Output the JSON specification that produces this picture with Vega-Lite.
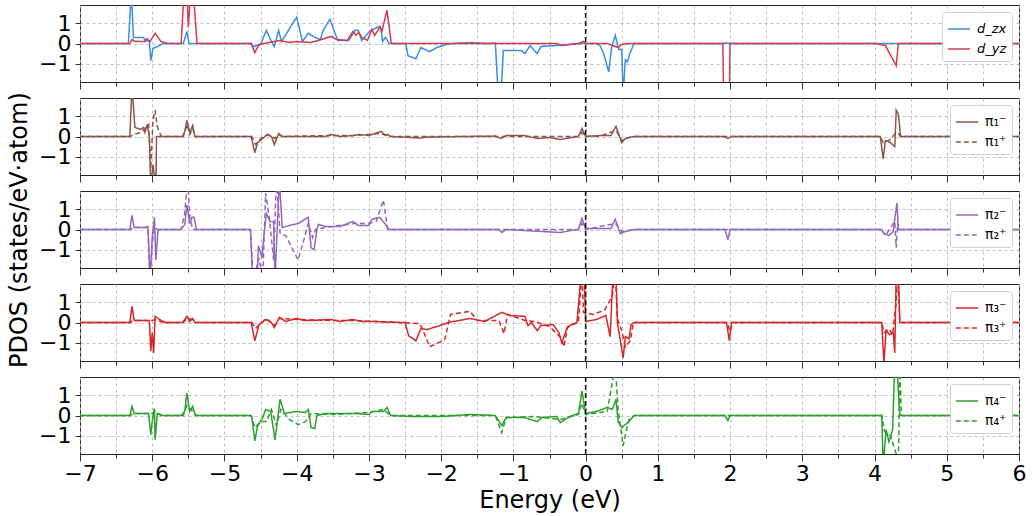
{
"$schema": "https://vega.github.io/schema/vega-lite/v6.json",
"padding": {"left": 8, "top": 3, "right": 6, "bottom": 2},
"background": "white",
"bounds": "flush",
"title": {"text": "PDOS (states/eV·atom)", "orient": "left", "anchor": "middle", "fontSize": 24, "fontWeight": "normal", "font": "DejaVu Sans", "offset": 6, "dx": 28, "color": "black"},
"config": {
 "font": "DejaVu Sans",
 "view": {"stroke": "#222222", "strokeWidth": 1},
 "axis": {"labelFont": "DejaVu Sans", "titleFont": "DejaVu Sans", "labelColor": "black", "titleColor": "black", "domain": false, "tickColor": "#333333", "gridColor": "#b0b0b0", "gridDash": [3, 3], "gridWidth": 0.8, "labelOverlap": false, "labelFlush": false, "labelBound": false},
 "legend": {"labelFont": "DejaVu Sans"},
 "concat": {"spacing": 16}
},
"resolve": {"scale": {"color": "independent", "strokeDash": "independent", "x": "independent", "y": "independent"}, "legend": {"color": "independent", "strokeDash": "independent"}},
"vconcat": [
 {
  "width": 939, "height": 77,
  "resolve": {"axis": {"x": "independent"}},
  "layer": [
   {"data": {"values": [
{"x":-7,"y":0,"s":"d_zx"},{"x":-6.33,"y":0,"s":"d_zx"},{"x":-6.29,"y":2.5,"s":"d_zx"},{"x":-6.26,"y":0.3,"s":"d_zx"},{"x":-6.12,"y":0.3,"s":"d_zx"},{"x":-6.1,"y":0.15,"s":"d_zx"},{"x":-6.04,"y":0.1,"s":"d_zx"},{"x":-6.02,"y":-0.85,"s":"d_zx"},{"x":-5.99,"y":-0.25,"s":"d_zx"},{"x":-5.93,"y":-0.15,"s":"d_zx"},{"x":-5.85,"y":0,"s":"d_zx"},{"x":-5.57,"y":0,"s":"d_zx"},{"x":-5.52,"y":0.6,"s":"d_zx"},{"x":-5.49,"y":0,"s":"d_zx"},{"x":-4.63,"y":0,"s":"d_zx"},{"x":-4.6,"y":-0.15,"s":"d_zx"},{"x":-4.5,"y":-0.05,"s":"d_zx"},{"x":-4.42,"y":0.65,"s":"d_zx"},{"x":-4.35,"y":0.1,"s":"d_zx"},{"x":-4.31,"y":-0.15,"s":"d_zx"},{"x":-4.25,"y":0.65,"s":"d_zx"},{"x":-4.21,"y":0.1,"s":"d_zx"},{"x":-4.0,"y":1.3,"s":"d_zx"},{"x":-3.92,"y":0.1,"s":"d_zx"},{"x":-3.84,"y":0.5,"s":"d_zx"},{"x":-3.75,"y":0.3,"s":"d_zx"},{"x":-3.67,"y":0.2,"s":"d_zx"},{"x":-3.64,"y":0.6,"s":"d_zx"},{"x":-3.54,"y":1.2,"s":"d_zx"},{"x":-3.49,"y":0.7,"s":"d_zx"},{"x":-3.43,"y":0.15,"s":"d_zx"},{"x":-3.28,"y":0.15,"s":"d_zx"},{"x":-3.19,"y":0.65,"s":"d_zx"},{"x":-3.15,"y":0.65,"s":"d_zx"},{"x":-3.1,"y":0.15,"s":"d_zx"},{"x":-2.99,"y":0.6,"s":"d_zx"},{"x":-2.88,"y":0.8,"s":"d_zx"},{"x":-2.84,"y":0.85,"s":"d_zx"},{"x":-2.81,"y":0.1,"s":"d_zx"},{"x":-2.77,"y":0.3,"s":"d_zx"},{"x":-2.72,"y":0,"s":"d_zx"},{"x":-2.49,"y":0,"s":"d_zx"},{"x":-2.46,"y":-0.6,"s":"d_zx"},{"x":-2.35,"y":-0.75,"s":"d_zx"},{"x":-2.28,"y":-0.2,"s":"d_zx"},{"x":-2.16,"y":-0.4,"s":"d_zx"},{"x":-2.06,"y":-0.2,"s":"d_zx"},{"x":-1.93,"y":-0.05,"s":"d_zx"},{"x":-1.85,"y":0,"s":"d_zx"},{"x":-1.6,"y":0.05,"s":"d_zx"},{"x":-1.38,"y":0,"s":"d_zx"},{"x":-1.25,"y":0.02,"s":"d_zx"},{"x":-1.21,"y":-2.5,"s":"d_zx"},{"x":-1.17,"y":-2.5,"s":"d_zx"},{"x":-1.14,"y":-0.35,"s":"d_zx"},{"x":-0.89,"y":-0.35,"s":"d_zx"},{"x":-0.84,"y":-0.5,"s":"d_zx"},{"x":-0.77,"y":-0.1,"s":"d_zx"},{"x":-0.67,"y":-0.5,"s":"d_zx"},{"x":-0.62,"y":-0.15,"s":"d_zx"},{"x":-0.4,"y":-0.1,"s":"d_zx"},{"x":-0.2,"y":-0.05,"s":"d_zx"},{"x":-0.05,"y":0,"s":"d_zx"},{"x":0.15,"y":0,"s":"d_zx"},{"x":0.2,"y":-0.1,"s":"d_zx"},{"x":0.25,"y":-0.5,"s":"d_zx"},{"x":0.32,"y":-1.4,"s":"d_zx"},{"x":0.36,"y":-0.2,"s":"d_zx"},{"x":0.41,"y":0.4,"s":"d_zx"},{"x":0.46,"y":-0.3,"s":"d_zx"},{"x":0.5,"y":-0.3,"s":"d_zx"},{"x":0.52,"y":-2.5,"s":"d_zx"},{"x":0.55,"y":-0.8,"s":"d_zx"},{"x":0.58,"y":-0.9,"s":"d_zx"},{"x":0.61,"y":-0.5,"s":"d_zx"},{"x":0.67,"y":0,"s":"d_zx"},{"x":1.9,"y":0,"s":"d_zx"},{"x":1.95,"y":0.03,"s":"d_zx"},{"x":2.0,"y":0,"s":"d_zx"},{"x":6,"y":0,"s":"d_zx"},
{"x":-7,"y":0,"s":"d_yz"},{"x":-6.31,"y":0,"s":"d_yz"},{"x":-6.28,"y":0.2,"s":"d_yz"},{"x":-6.24,"y":0.1,"s":"d_yz"},{"x":-6.1,"y":0.1,"s":"d_yz"},{"x":-6.08,"y":0.25,"s":"d_yz"},{"x":-6.03,"y":0.1,"s":"d_yz"},{"x":-5.96,"y":0.5,"s":"d_yz"},{"x":-5.88,"y":0.1,"s":"d_yz"},{"x":-5.79,"y":0,"s":"d_yz"},{"x":-5.6,"y":0,"s":"d_yz"},{"x":-5.56,"y":2.5,"s":"d_yz"},{"x":-5.52,"y":2.5,"s":"d_yz"},{"x":-5.5,"y":0.8,"s":"d_yz"},{"x":-5.47,"y":2.5,"s":"d_yz"},{"x":-5.43,"y":2.5,"s":"d_yz"},{"x":-5.38,"y":0,"s":"d_yz"},{"x":-4.63,"y":0,"s":"d_yz"},{"x":-4.58,"y":-0.45,"s":"d_yz"},{"x":-4.52,"y":-0.05,"s":"d_yz"},{"x":-4.24,"y":0.15,"s":"d_yz"},{"x":-4.1,"y":0.05,"s":"d_yz"},{"x":-4.0,"y":0.1,"s":"d_yz"},{"x":-3.8,"y":0.05,"s":"d_yz"},{"x":-3.66,"y":0.2,"s":"d_yz"},{"x":-3.52,"y":0.35,"s":"d_yz"},{"x":-3.45,"y":0.2,"s":"d_yz"},{"x":-3.3,"y":0.15,"s":"d_yz"},{"x":-3.22,"y":0.6,"s":"d_yz"},{"x":-3.18,"y":0.4,"s":"d_yz"},{"x":-3.14,"y":0.55,"s":"d_yz"},{"x":-3.1,"y":0.3,"s":"d_yz"},{"x":-3.02,"y":0.15,"s":"d_yz"},{"x":-2.96,"y":0.7,"s":"d_yz"},{"x":-2.92,"y":0.4,"s":"d_yz"},{"x":-2.85,"y":0.8,"s":"d_yz"},{"x":-2.82,"y":0.6,"s":"d_yz"},{"x":-2.75,"y":1.65,"s":"d_yz"},{"x":-2.69,"y":0,"s":"d_yz"},{"x":-0.4,"y":0,"s":"d_yz"},{"x":-0.33,"y":-0.1,"s":"d_yz"},{"x":-0.25,"y":-0.05,"s":"d_yz"},{"x":-0.1,"y":0,"s":"d_yz"},{"x":-0.03,"y":0.1,"s":"d_yz"},{"x":0.0,"y":0,"s":"d_yz"},{"x":0.3,"y":0,"s":"d_yz"},{"x":0.45,"y":-0.2,"s":"d_yz"},{"x":0.5,"y":-0.05,"s":"d_yz"},{"x":0.6,"y":0,"s":"d_yz"},{"x":1.9,"y":0,"s":"d_yz"},{"x":1.91,"y":-2.5,"s":"d_yz"},{"x":1.99,"y":-2.5,"s":"d_yz"},{"x":2.0,"y":0,"s":"d_yz"},{"x":4.0,"y":0,"s":"d_yz"},{"x":4.15,"y":-0.1,"s":"d_yz"},{"x":4.3,"y":-1.1,"s":"d_yz"},{"x":4.33,"y":0,"s":"d_yz"},{"x":6,"y":0,"s":"d_yz"}
   ]},
    "mark": {"type": "line", "clip": true, "strokeWidth": 1.5},
    "encoding": {
     "x": {"field": "x", "type": "quantitative", "scale": {"domain": [-7, 6], "nice": false, "zero": false}, "axis": {"orient": "bottom", "values": [-7,-6.5,-6,-5.5,-5,-4.5,-4,-3.5,-3,-2.5,-2,-1.5,-1,-0.5,0,0.5,1,1.5,2,2.5,3,3.5,4,4.5,5,5.5,6], "labels": false, "title": null, "tickSize": 4, "grid": true}},
     "y": {"field": "y", "type": "quantitative", "scale": {"domain": [-1.9, 1.9], "nice": false}, "axis": {"values": [-1, 0, 1], "title": null, "labelFontSize": 22, "tickSize": 5, "labelPadding": 4, "grid": true, "labelExpr": "replace(format(datum.value, 'd'), '-', '−')"}},
     "color": {"field": "s", "type": "nominal", "sort": ["d_zx", "d_yz"], "scale": {"domain": ["d_zx", "d_yz"], "range": ["#3a8ee6", "#d63a4e"]}, "legend": {"orient": "top-right", "offset": 7, "title": null, "fillColor": "white", "strokeColor": "#d0d0d0", "padding": 5, "cornerRadius": 3, "symbolType": "stroke", "symbolSize": 500, "symbolStrokeWidth": 1.5, "labelFontSize": 13, "labelFontStyle": "italic", "rowPadding": 1, "labelOffset": 6}}
    }
   },
   {"data": {"values": [{"x": 0}]}, "mark": {"type": "rule", "color": "#111111", "strokeDash": [5, 3], "strokeWidth": 1.5},
    "encoding": {"x": {"field": "x", "type": "quantitative", "axis": {"orient": "bottom", "values": [-7,-6,-5,-4,-3,-2,-1,0,1,2,3,4,5,6], "labels": false, "title": null, "tickSize": 7, "grid": false}}}}
  ]
 },
 {
  "width": 939, "height": 77,
  "resolve": {"axis": {"x": "independent"}},
  "layer": [
   {"data": {"values": [
{"x":-7,"y":0,"s":"π₁⁻"},{"x":-6.31,"y":0,"s":"π₁⁻"},{"x":-6.28,"y":2.5,"s":"π₁⁻"},{"x":-6.24,"y":0.45,"s":"π₁⁻"},{"x":-6.16,"y":0.35,"s":"π₁⁻"},{"x":-6.12,"y":0.45,"s":"π₁⁻"},{"x":-6.1,"y":0.2,"s":"π₁⁻"},{"x":-6.07,"y":0.6,"s":"π₁⁻"},{"x":-6.04,"y":0,"s":"π₁⁻"},{"x":-6.02,"y":-2.5,"s":"π₁⁻"},{"x":-5.99,"y":-1.4,"s":"π₁⁻"},{"x":-5.95,"y":-2.5,"s":"π₁⁻"},{"x":-5.94,"y":0,"s":"π₁⁻"},{"x":-5.58,"y":0,"s":"π₁⁻"},{"x":-5.55,"y":0.25,"s":"π₁⁻"},{"x":-5.52,"y":0.8,"s":"π₁⁻"},{"x":-5.48,"y":0.2,"s":"π₁⁻"},{"x":-5.44,"y":0.55,"s":"π₁⁻"},{"x":-5.41,"y":0,"s":"π₁⁻"},{"x":-4.63,"y":0,"s":"π₁⁻"},{"x":-4.58,"y":-0.8,"s":"π₁⁻"},{"x":-4.54,"y":-0.3,"s":"π₁⁻"},{"x":-4.47,"y":-0.1,"s":"π₁⁻"},{"x":-4.41,"y":0.1,"s":"π₁⁻"},{"x":-4.35,"y":0,"s":"π₁⁻"},{"x":-4.31,"y":-0.4,"s":"π₁⁻"},{"x":-4.25,"y":0.15,"s":"π₁⁻"},{"x":-4.2,"y":0,"s":"π₁⁻"},{"x":-3.6,"y":0,"s":"π₁⁻"},{"x":-3.52,"y":0.1,"s":"π₁⁻"},{"x":-3.4,"y":0,"s":"π₁⁻"},{"x":-3.2,"y":0.05,"s":"π₁⁻"},{"x":-3.15,"y":0.1,"s":"π₁⁻"},{"x":-3.0,"y":0.05,"s":"π₁⁻"},{"x":-2.83,"y":0.25,"s":"π₁⁻"},{"x":-2.77,"y":0.05,"s":"π₁⁻"},{"x":-2.74,"y":0.1,"s":"π₁⁻"},{"x":-2.7,"y":0,"s":"π₁⁻"},{"x":-2.4,"y":-0.05,"s":"π₁⁻"},{"x":-2.3,"y":-0.08,"s":"π₁⁻"},{"x":-2.2,"y":-0.03,"s":"π₁⁻"},{"x":-1.7,"y":0,"s":"π₁⁻"},{"x":-1.25,"y":0.02,"s":"π₁⁻"},{"x":-1.17,"y":-0.1,"s":"π₁⁻"},{"x":-1.1,"y":0.05,"s":"π₁⁻"},{"x":-0.85,"y":0.05,"s":"π₁⁻"},{"x":-0.67,"y":-0.1,"s":"π₁⁻"},{"x":-0.5,"y":-0.05,"s":"π₁⁻"},{"x":-0.35,"y":-0.15,"s":"π₁⁻"},{"x":-0.2,"y":-0.05,"s":"π₁⁻"},{"x":-0.1,"y":0,"s":"π₁⁻"},{"x":-0.05,"y":0.4,"s":"π₁⁻"},{"x":0.0,"y":0,"s":"π₁⁻"},{"x":0.2,"y":0.05,"s":"π₁⁻"},{"x":0.35,"y":0.05,"s":"π₁⁻"},{"x":0.42,"y":0.5,"s":"π₁⁻"},{"x":0.5,"y":-0.3,"s":"π₁⁻"},{"x":0.55,"y":-0.1,"s":"π₁⁻"},{"x":0.67,"y":0,"s":"π₁⁻"},{"x":1.92,"y":0,"s":"π₁⁻"},{"x":1.97,"y":-0.1,"s":"π₁⁻"},{"x":2.02,"y":0,"s":"π₁⁻"},{"x":4.08,"y":0,"s":"π₁⁻"},{"x":4.12,"y":-1.1,"s":"π₁⁻"},{"x":4.15,"y":-0.2,"s":"π₁⁻"},{"x":4.22,"y":-0.3,"s":"π₁⁻"},{"x":4.28,"y":-0.5,"s":"π₁⁻"},{"x":4.3,"y":1.3,"s":"π₁⁻"},{"x":4.33,"y":1.1,"s":"π₁⁻"},{"x":4.36,"y":0,"s":"π₁⁻"},{"x":6,"y":0,"s":"π₁⁻"},
{"x":-7,"y":0,"s":"π₁⁺"},{"x":-6.3,"y":0,"s":"π₁⁺"},{"x":-6.26,"y":0.1,"s":"π₁⁺"},{"x":-6.15,"y":0.2,"s":"π₁⁺"},{"x":-6.05,"y":0.6,"s":"π₁⁺"},{"x":-6.02,"y":-1.6,"s":"π₁⁺"},{"x":-5.99,"y":0.8,"s":"π₁⁺"},{"x":-5.96,"y":1.3,"s":"π₁⁺"},{"x":-5.93,"y":0.5,"s":"π₁⁺"},{"x":-5.9,"y":0.2,"s":"π₁⁺"},{"x":-5.87,"y":0,"s":"π₁⁺"},{"x":-5.57,"y":0,"s":"π₁⁺"},{"x":-5.52,"y":0.6,"s":"π₁⁺"},{"x":-5.48,"y":0.1,"s":"π₁⁺"},{"x":-5.44,"y":0.4,"s":"π₁⁺"},{"x":-5.41,"y":0,"s":"π₁⁺"},{"x":-4.62,"y":0,"s":"π₁⁺"},{"x":-4.57,"y":-0.4,"s":"π₁⁺"},{"x":-4.5,"y":-0.1,"s":"π₁⁺"},{"x":-4.4,"y":0.1,"s":"π₁⁺"},{"x":-4.3,"y":-0.1,"s":"π₁⁺"},{"x":-4.25,"y":0.1,"s":"π₁⁺"},{"x":-4.2,"y":0,"s":"π₁⁺"},{"x":-3.5,"y":0.05,"s":"π₁⁺"},{"x":-3.2,"y":0.05,"s":"π₁⁺"},{"x":-2.85,"y":0.15,"s":"π₁⁺"},{"x":-2.75,"y":0.05,"s":"π₁⁺"},{"x":-2.7,"y":0,"s":"π₁⁺"},{"x":-0.1,"y":0,"s":"π₁⁺"},{"x":-0.05,"y":0.2,"s":"π₁⁺"},{"x":0.0,"y":0,"s":"π₁⁺"},{"x":0.2,"y":0.02,"s":"π₁⁺"},{"x":0.42,"y":0.3,"s":"π₁⁺"},{"x":0.5,"y":-0.2,"s":"π₁⁺"},{"x":0.6,"y":-0.05,"s":"π₁⁺"},{"x":0.67,"y":0,"s":"π₁⁺"},{"x":4.08,"y":0,"s":"π₁⁺"},{"x":4.12,"y":-0.3,"s":"π₁⁺"},{"x":4.2,"y":-0.2,"s":"π₁⁺"},{"x":4.3,"y":0.2,"s":"π₁⁺"},{"x":4.33,"y":0.15,"s":"π₁⁺"},{"x":4.36,"y":0,"s":"π₁⁺"},{"x":6,"y":0,"s":"π₁⁺"}
   ]},
    "mark": {"type": "line", "clip": true, "strokeWidth": 1.5, "color": "#8c564b"},
    "encoding": {
     "x": {"field": "x", "type": "quantitative", "scale": {"domain": [-7, 6], "nice": false, "zero": false}, "axis": {"orient": "bottom", "values": [-7,-6.5,-6,-5.5,-5,-4.5,-4,-3.5,-3,-2.5,-2,-1.5,-1,-0.5,0,0.5,1,1.5,2,2.5,3,3.5,4,4.5,5,5.5,6], "labels": false, "title": null, "tickSize": 4, "grid": true}},
     "y": {"field": "y", "type": "quantitative", "scale": {"domain": [-1.9, 1.9], "nice": false}, "axis": {"values": [-1, 0, 1], "title": null, "labelFontSize": 22, "tickSize": 5, "labelPadding": 4, "grid": true, "labelExpr": "replace(format(datum.value, 'd'), '-', '−')"}},
     "strokeDash": {"field": "s", "type": "nominal", "scale": {"domain": ["π₁⁻", "π₁⁺"], "range": [[1, 0], [5, 3]]}, "legend": {"orient": "top-right", "offset": 7, "title": null, "fillColor": "white", "strokeColor": "#d0d0d0", "padding": 5, "cornerRadius": 3, "symbolType": "stroke", "symbolSize": 500, "symbolStrokeWidth": 1.5, "symbolStrokeColor": "#8c564b", "labelFontSize": 14, "rowPadding": 1, "labelOffset": 6}}
    }
   },
   {"data": {"values": [{"x": 0}]}, "mark": {"type": "rule", "color": "#111111", "strokeDash": [5, 3], "strokeWidth": 1.5},
    "encoding": {"x": {"field": "x", "type": "quantitative", "axis": {"orient": "bottom", "values": [-7,-6,-5,-4,-3,-2,-1,0,1,2,3,4,5,6], "labels": false, "title": null, "tickSize": 7, "grid": false}}}}
  ]
 },
 {
  "width": 939, "height": 77,
  "resolve": {"axis": {"x": "independent"}},
  "layer": [
   {"data": {"values": [
{"x":-7,"y":0,"s":"π₂⁻"},{"x":-6.31,"y":0,"s":"π₂⁻"},{"x":-6.28,"y":0.7,"s":"π₂⁻"},{"x":-6.25,"y":0.1,"s":"π₂⁻"},{"x":-6.1,"y":0.1,"s":"π₂⁻"},{"x":-6.06,"y":0.15,"s":"π₂⁻"},{"x":-6.03,"y":-2.5,"s":"π₂⁻"},{"x":-6.0,"y":-0.4,"s":"π₂⁻"},{"x":-5.97,"y":0.6,"s":"π₂⁻"},{"x":-5.95,"y":-1.5,"s":"π₂⁻"},{"x":-5.92,"y":0,"s":"π₂⁻"},{"x":-5.6,"y":0,"s":"π₂⁻"},{"x":-5.55,"y":0.25,"s":"π₂⁻"},{"x":-5.52,"y":1.2,"s":"π₂⁻"},{"x":-5.48,"y":0.3,"s":"π₂⁻"},{"x":-5.45,"y":0.6,"s":"π₂⁻"},{"x":-5.42,"y":0.6,"s":"π₂⁻"},{"x":-5.39,"y":0,"s":"π₂⁻"},{"x":-4.64,"y":0,"s":"π₂⁻"},{"x":-4.61,"y":-2.5,"s":"π₂⁻"},{"x":-4.55,"y":-2.5,"s":"π₂⁻"},{"x":-4.53,"y":-0.8,"s":"π₂⁻"},{"x":-4.48,"y":-1.4,"s":"π₂⁻"},{"x":-4.46,"y":-0.5,"s":"π₂⁻"},{"x":-4.42,"y":0.8,"s":"π₂⁻"},{"x":-4.37,"y":0.4,"s":"π₂⁻"},{"x":-4.32,"y":0.4,"s":"π₂⁻"},{"x":-4.3,"y":-2.5,"s":"π₂⁻"},{"x":-4.24,"y":2.5,"s":"π₂⁻"},{"x":-4.2,"y":0.1,"s":"π₂⁻"},{"x":-4.1,"y":0.2,"s":"π₂⁻"},{"x":-3.98,"y":0.3,"s":"π₂⁻"},{"x":-3.84,"y":0.6,"s":"π₂⁻"},{"x":-3.8,"y":-0.9,"s":"π₂⁻"},{"x":-3.76,"y":-1.0,"s":"π₂⁻"},{"x":-3.72,"y":0,"s":"π₂⁻"},{"x":-3.7,"y":0.25,"s":"π₂⁻"},{"x":-3.6,"y":0.15,"s":"π₂⁻"},{"x":-3.4,"y":0.15,"s":"π₂⁻"},{"x":-3.22,"y":0.4,"s":"π₂⁻"},{"x":-3.15,"y":0.2,"s":"π₂⁻"},{"x":-3.0,"y":0.2,"s":"π₂⁻"},{"x":-2.96,"y":0.5,"s":"π₂⁻"},{"x":-2.85,"y":0.6,"s":"π₂⁻"},{"x":-2.78,"y":0.3,"s":"π₂⁻"},{"x":-2.72,"y":0,"s":"π₂⁻"},{"x":-1.2,"y":0,"s":"π₂⁻"},{"x":-1.16,"y":-0.15,"s":"π₂⁻"},{"x":-1.1,"y":0,"s":"π₂⁻"},{"x":-0.35,"y":-0.15,"s":"π₂⁻"},{"x":-0.2,"y":-0.05,"s":"π₂⁻"},{"x":-0.1,"y":0,"s":"π₂⁻"},{"x":-0.05,"y":0.55,"s":"π₂⁻"},{"x":0.0,"y":0.05,"s":"π₂⁻"},{"x":0.35,"y":0.05,"s":"π₂⁻"},{"x":0.41,"y":0.5,"s":"π₂⁻"},{"x":0.48,"y":-0.2,"s":"π₂⁻"},{"x":0.55,"y":-0.1,"s":"π₂⁻"},{"x":0.67,"y":0,"s":"π₂⁻"},{"x":1.93,"y":0,"s":"π₂⁻"},{"x":1.97,"y":-0.5,"s":"π₂⁻"},{"x":2.0,"y":0,"s":"π₂⁻"},{"x":4.1,"y":0,"s":"π₂⁻"},{"x":4.13,"y":-0.2,"s":"π₂⁻"},{"x":4.2,"y":-0.3,"s":"π₂⁻"},{"x":4.26,"y":-0.1,"s":"π₂⁻"},{"x":4.29,"y":0.8,"s":"π₂⁻"},{"x":4.31,"y":1.3,"s":"π₂⁻"},{"x":4.33,"y":0,"s":"π₂⁻"},{"x":6,"y":0,"s":"π₂⁻"},
{"x":-7,"y":0,"s":"π₂⁺"},{"x":-6.3,"y":0,"s":"π₂⁺"},{"x":-6.27,"y":0.1,"s":"π₂⁺"},{"x":-6.06,"y":0.1,"s":"π₂⁺"},{"x":-6.03,"y":-2.5,"s":"π₂⁺"},{"x":-6.0,"y":-0.7,"s":"π₂⁺"},{"x":-5.97,"y":0.1,"s":"π₂⁺"},{"x":-5.93,"y":0,"s":"π₂⁺"},{"x":-5.6,"y":0,"s":"π₂⁺"},{"x":-5.55,"y":0.8,"s":"π₂⁺"},{"x":-5.51,"y":2.5,"s":"π₂⁺"},{"x":-5.48,"y":0.6,"s":"π₂⁺"},{"x":-5.44,"y":0,"s":"π₂⁺"},{"x":-4.64,"y":0,"s":"π₂⁺"},{"x":-4.6,"y":-2.5,"s":"π₂⁺"},{"x":-4.52,"y":-1.4,"s":"π₂⁺"},{"x":-4.47,"y":-2.5,"s":"π₂⁺"},{"x":-4.43,"y":1.8,"s":"π₂⁺"},{"x":-4.38,"y":0.6,"s":"π₂⁺"},{"x":-4.32,"y":-1.5,"s":"π₂⁺"},{"x":-4.28,"y":2.5,"s":"π₂⁺"},{"x":-4.23,"y":-0.2,"s":"π₂⁺"},{"x":-4.15,"y":-0.3,"s":"π₂⁺"},{"x":-3.98,"y":-1.5,"s":"π₂⁺"},{"x":-3.9,"y":-0.5,"s":"π₂⁺"},{"x":-3.84,"y":0.3,"s":"π₂⁺"},{"x":-3.78,"y":-0.4,"s":"π₂⁺"},{"x":-3.74,"y":0,"s":"π₂⁺"},{"x":-3.6,"y":0.1,"s":"π₂⁺"},{"x":-3.2,"y":0.3,"s":"π₂⁺"},{"x":-3.0,"y":0.3,"s":"π₂⁺"},{"x":-2.9,"y":0.4,"s":"π₂⁺"},{"x":-2.8,"y":1.45,"s":"π₂⁺"},{"x":-2.74,"y":0,"s":"π₂⁺"},{"x":-0.1,"y":0,"s":"π₂⁺"},{"x":-0.05,"y":0.3,"s":"π₂⁺"},{"x":0.0,"y":0,"s":"π₂⁺"},{"x":0.41,"y":0.3,"s":"π₂⁺"},{"x":0.5,"y":-0.1,"s":"π₂⁺"},{"x":0.67,"y":0,"s":"π₂⁺"},{"x":4.1,"y":0,"s":"π₂⁺"},{"x":4.15,"y":-0.3,"s":"π₂⁺"},{"x":4.28,"y":0.4,"s":"π₂⁺"},{"x":4.3,"y":-0.9,"s":"π₂⁺"},{"x":4.32,"y":0.3,"s":"π₂⁺"},{"x":4.34,"y":0,"s":"π₂⁺"},{"x":6,"y":0,"s":"π₂⁺"}
   ]},
    "mark": {"type": "line", "clip": true, "strokeWidth": 1.5, "color": "#9467bd"},
    "encoding": {
     "x": {"field": "x", "type": "quantitative", "scale": {"domain": [-7, 6], "nice": false, "zero": false}, "axis": {"orient": "bottom", "values": [-7,-6.5,-6,-5.5,-5,-4.5,-4,-3.5,-3,-2.5,-2,-1.5,-1,-0.5,0,0.5,1,1.5,2,2.5,3,3.5,4,4.5,5,5.5,6], "labels": false, "title": null, "tickSize": 4, "grid": true}},
     "y": {"field": "y", "type": "quantitative", "scale": {"domain": [-1.9, 1.9], "nice": false}, "axis": {"values": [-1, 0, 1], "title": null, "labelFontSize": 22, "tickSize": 5, "labelPadding": 4, "grid": true, "labelExpr": "replace(format(datum.value, 'd'), '-', '−')"}},
     "strokeDash": {"field": "s", "type": "nominal", "scale": {"domain": ["π₂⁻", "π₂⁺"], "range": [[1, 0], [5, 3]]}, "legend": {"orient": "top-right", "offset": 7, "title": null, "fillColor": "white", "strokeColor": "#d0d0d0", "padding": 5, "cornerRadius": 3, "symbolType": "stroke", "symbolSize": 500, "symbolStrokeWidth": 1.5, "symbolStrokeColor": "#9467bd", "labelFontSize": 14, "rowPadding": 1, "labelOffset": 6}}
    }
   },
   {"data": {"values": [{"x": 0}]}, "mark": {"type": "rule", "color": "#111111", "strokeDash": [5, 3], "strokeWidth": 1.5},
    "encoding": {"x": {"field": "x", "type": "quantitative", "axis": {"orient": "bottom", "values": [-7,-6,-5,-4,-3,-2,-1,0,1,2,3,4,5,6], "labels": false, "title": null, "tickSize": 7, "grid": false}}}}
  ]
 },
 {
  "width": 939, "height": 77,
  "resolve": {"axis": {"x": "independent"}},
  "layer": [
   {"data": {"values": [
{"x":-7,"y":0,"s":"π₃⁻"},{"x":-6.31,"y":0,"s":"π₃⁻"},{"x":-6.28,"y":0.8,"s":"π₃⁻"},{"x":-6.25,"y":0.1,"s":"π₃⁻"},{"x":-6.1,"y":0.1,"s":"π₃⁻"},{"x":-6.04,"y":0.1,"s":"π₃⁻"},{"x":-6.02,"y":-1.4,"s":"π₃⁻"},{"x":-6.0,"y":-0.5,"s":"π₃⁻"},{"x":-5.98,"y":-1.5,"s":"π₃⁻"},{"x":-5.96,"y":0.3,"s":"π₃⁻"},{"x":-5.9,"y":0.15,"s":"π₃⁻"},{"x":-5.82,"y":0,"s":"π₃⁻"},{"x":-5.58,"y":0,"s":"π₃⁻"},{"x":-5.52,"y":0.3,"s":"π₃⁻"},{"x":-5.48,"y":0.05,"s":"π₃⁻"},{"x":-5.44,"y":0.2,"s":"π₃⁻"},{"x":-5.41,"y":0,"s":"π₃⁻"},{"x":-4.63,"y":0,"s":"π₃⁻"},{"x":-4.58,"y":-0.9,"s":"π₃⁻"},{"x":-4.52,"y":-0.1,"s":"π₃⁻"},{"x":-4.43,"y":0.15,"s":"π₃⁻"},{"x":-4.35,"y":0,"s":"π₃⁻"},{"x":-4.31,"y":-0.25,"s":"π₃⁻"},{"x":-4.24,"y":0.25,"s":"π₃⁻"},{"x":-4.15,"y":0.05,"s":"π₃⁻"},{"x":-4.0,"y":0.2,"s":"π₃⁻"},{"x":-3.9,"y":0.1,"s":"π₃⁻"},{"x":-3.8,"y":0.1,"s":"π₃⁻"},{"x":-3.52,"y":0.15,"s":"π₃⁻"},{"x":-3.4,"y":0.05,"s":"π₃⁻"},{"x":-3.22,"y":0.15,"s":"π₃⁻"},{"x":-3.1,"y":0.05,"s":"π₃⁻"},{"x":-2.9,"y":0.05,"s":"π₃⁻"},{"x":-2.75,"y":0.02,"s":"π₃⁻"},{"x":-2.5,"y":0,"s":"π₃⁻"},{"x":-2.45,"y":-0.65,"s":"π₃⁻"},{"x":-2.35,"y":-0.9,"s":"π₃⁻"},{"x":-2.28,"y":-0.3,"s":"π₃⁻"},{"x":-2.2,"y":-0.35,"s":"π₃⁻"},{"x":-2.06,"y":-0.2,"s":"π₃⁻"},{"x":-1.9,"y":0,"s":"π₃⁻"},{"x":-1.75,"y":0.1,"s":"π₃⁻"},{"x":-1.6,"y":0.2,"s":"π₃⁻"},{"x":-1.4,"y":0.05,"s":"π₃⁻"},{"x":-1.16,"y":0.5,"s":"π₃⁻"},{"x":-1.05,"y":0.35,"s":"π₃⁻"},{"x":-0.84,"y":0.3,"s":"π₃⁻"},{"x":-0.8,"y":-0.15,"s":"π₃⁻"},{"x":-0.75,"y":0,"s":"π₃⁻"},{"x":-0.67,"y":-0.4,"s":"π₃⁻"},{"x":-0.62,"y":-0.15,"s":"π₃⁻"},{"x":-0.45,"y":-0.1,"s":"π₃⁻"},{"x":-0.37,"y":-0.5,"s":"π₃⁻"},{"x":-0.33,"y":-1.0,"s":"π₃⁻"},{"x":-0.26,"y":-0.3,"s":"π₃⁻"},{"x":-0.2,"y":-0.1,"s":"π₃⁻"},{"x":-0.12,"y":0,"s":"π₃⁻"},{"x":-0.06,"y":2.5,"s":"π₃⁻"},{"x":-0.02,"y":2.5,"s":"π₃⁻"},{"x":0.0,"y":0.05,"s":"π₃⁻"},{"x":0.15,"y":0.15,"s":"π₃⁻"},{"x":0.28,"y":0.35,"s":"π₃⁻"},{"x":0.34,"y":-0.7,"s":"π₃⁻"},{"x":0.38,"y":2.5,"s":"π₃⁻"},{"x":0.42,"y":2.5,"s":"π₃⁻"},{"x":0.44,"y":0,"s":"π₃⁻"},{"x":0.52,"y":-1.75,"s":"π₃⁻"},{"x":0.55,"y":-0.7,"s":"π₃⁻"},{"x":0.6,"y":-0.8,"s":"π₃⁻"},{"x":0.63,"y":-0.1,"s":"π₃⁻"},{"x":0.67,"y":0,"s":"π₃⁻"},{"x":1.95,"y":0,"s":"π₃⁻"},{"x":1.99,"y":-0.9,"s":"π₃⁻"},{"x":2.02,"y":0,"s":"π₃⁻"},{"x":4.1,"y":0,"s":"π₃⁻"},{"x":4.13,"y":-2.0,"s":"π₃⁻"},{"x":4.16,"y":-0.4,"s":"π₃⁻"},{"x":4.21,"y":-0.6,"s":"π₃⁻"},{"x":4.26,"y":-0.5,"s":"π₃⁻"},{"x":4.28,"y":-1.5,"s":"π₃⁻"},{"x":4.3,"y":2.5,"s":"π₃⁻"},{"x":4.33,"y":2.5,"s":"π₃⁻"},{"x":4.35,"y":0,"s":"π₃⁻"},{"x":6,"y":0,"s":"π₃⁻"},
{"x":-7,"y":0,"s":"π₃⁺"},{"x":-6.3,"y":0,"s":"π₃⁺"},{"x":-6.27,"y":0.1,"s":"π₃⁺"},{"x":-6.0,"y":0.1,"s":"π₃⁺"},{"x":-5.96,"y":0.15,"s":"π₃⁺"},{"x":-5.85,"y":0,"s":"π₃⁺"},{"x":-5.57,"y":0,"s":"π₃⁺"},{"x":-5.52,"y":0.2,"s":"π₃⁺"},{"x":-5.44,"y":0.15,"s":"π₃⁺"},{"x":-5.4,"y":0,"s":"π₃⁺"},{"x":-4.62,"y":0,"s":"π₃⁺"},{"x":-4.57,"y":-0.3,"s":"π₃⁺"},{"x":-4.5,"y":-0.05,"s":"π₃⁺"},{"x":-4.42,"y":0.2,"s":"π₃⁺"},{"x":-4.3,"y":-0.15,"s":"π₃⁺"},{"x":-4.24,"y":0.2,"s":"π₃⁺"},{"x":-4.0,"y":0.15,"s":"π₃⁺"},{"x":-3.52,"y":0.1,"s":"π₃⁺"},{"x":-3.22,"y":0.1,"s":"π₃⁺"},{"x":-2.9,"y":0.05,"s":"π₃⁺"},{"x":-2.3,"y":-0.05,"s":"π₃⁺"},{"x":-2.26,"y":-0.3,"s":"π₃⁺"},{"x":-2.16,"y":-1.2,"s":"π₃⁺"},{"x":-1.95,"y":-0.85,"s":"π₃⁺"},{"x":-1.87,"y":0.4,"s":"π₃⁺"},{"x":-1.6,"y":0.55,"s":"π₃⁺"},{"x":-1.5,"y":0.1,"s":"π₃⁺"},{"x":-1.2,"y":0.1,"s":"π₃⁺"},{"x":-1.13,"y":-0.55,"s":"π₃⁺"},{"x":-1.08,"y":0.4,"s":"π₃⁺"},{"x":-0.84,"y":0.1,"s":"π₃⁺"},{"x":-0.7,"y":0.05,"s":"π₃⁺"},{"x":-0.5,"y":-0.2,"s":"π₃⁺"},{"x":-0.33,"y":-0.8,"s":"π₃⁺"},{"x":-0.3,"y":-1.2,"s":"π₃⁺"},{"x":-0.25,"y":-0.2,"s":"π₃⁺"},{"x":-0.1,"y":0,"s":"π₃⁺"},{"x":-0.05,"y":2.5,"s":"π₃⁺"},{"x":-0.03,"y":0.5,"s":"π₃⁺"},{"x":0.1,"y":0.4,"s":"π₃⁺"},{"x":0.26,"y":0.6,"s":"π₃⁺"},{"x":0.37,"y":1.3,"s":"π₃⁺"},{"x":0.41,"y":2.5,"s":"π₃⁺"},{"x":0.44,"y":0.2,"s":"π₃⁺"},{"x":0.5,"y":-0.4,"s":"π₃⁺"},{"x":0.55,"y":-1.2,"s":"π₃⁺"},{"x":0.62,"y":-0.9,"s":"π₃⁺"},{"x":0.66,"y":0,"s":"π₃⁺"},{"x":1.96,"y":0,"s":"π₃⁺"},{"x":2.0,"y":-0.45,"s":"π₃⁺"},{"x":2.03,"y":0,"s":"π₃⁺"},{"x":4.1,"y":0,"s":"π₃⁺"},{"x":4.13,"y":-0.5,"s":"π₃⁺"},{"x":4.2,"y":-0.3,"s":"π₃⁺"},{"x":4.25,"y":-0.6,"s":"π₃⁺"},{"x":4.3,"y":1.0,"s":"π₃⁺"},{"x":4.32,"y":2.5,"s":"π₃⁺"},{"x":4.35,"y":0,"s":"π₃⁺"},{"x":6,"y":0,"s":"π₃⁺"}
   ]},
    "mark": {"type": "line", "clip": true, "strokeWidth": 1.5, "color": "#d62728"},
    "encoding": {
     "x": {"field": "x", "type": "quantitative", "scale": {"domain": [-7, 6], "nice": false, "zero": false}, "axis": {"orient": "bottom", "values": [-7,-6.5,-6,-5.5,-5,-4.5,-4,-3.5,-3,-2.5,-2,-1.5,-1,-0.5,0,0.5,1,1.5,2,2.5,3,3.5,4,4.5,5,5.5,6], "labels": false, "title": null, "tickSize": 4, "grid": true}},
     "y": {"field": "y", "type": "quantitative", "scale": {"domain": [-1.9, 1.9], "nice": false}, "axis": {"values": [-1, 0, 1], "title": null, "labelFontSize": 22, "tickSize": 5, "labelPadding": 4, "grid": true, "labelExpr": "replace(format(datum.value, 'd'), '-', '−')"}},
     "strokeDash": {"field": "s", "type": "nominal", "scale": {"domain": ["π₃⁻", "π₃⁺"], "range": [[1, 0], [5, 3]]}, "legend": {"orient": "top-right", "offset": 7, "title": null, "fillColor": "white", "strokeColor": "#d0d0d0", "padding": 5, "cornerRadius": 3, "symbolType": "stroke", "symbolSize": 500, "symbolStrokeWidth": 1.5, "symbolStrokeColor": "#d62728", "labelFontSize": 14, "rowPadding": 1, "labelOffset": 6}}
    }
   },
   {"data": {"values": [{"x": 0}]}, "mark": {"type": "rule", "color": "#111111", "strokeDash": [5, 3], "strokeWidth": 1.5},
    "encoding": {"x": {"field": "x", "type": "quantitative", "axis": {"orient": "bottom", "values": [-7,-6,-5,-4,-3,-2,-1,0,1,2,3,4,5,6], "labels": false, "title": null, "tickSize": 7, "grid": false}}}}
  ]
 },
 {
  "width": 939, "height": 77,
  "resolve": {"axis": {"x": "independent"}},
  "layer": [
   {"data": {"values": [
{"x":-7,"y":0,"s":"π₄⁻"},{"x":-6.31,"y":0,"s":"π₄⁻"},{"x":-6.28,"y":0.45,"s":"π₄⁻"},{"x":-6.25,"y":0.1,"s":"π₄⁻"},{"x":-6.05,"y":0.1,"s":"π₄⁻"},{"x":-6.02,"y":-0.95,"s":"π₄⁻"},{"x":-6.0,"y":-0.3,"s":"π₄⁻"},{"x":-5.97,"y":0.35,"s":"π₄⁻"},{"x":-5.96,"y":-1.2,"s":"π₄⁻"},{"x":-5.93,"y":0.1,"s":"π₄⁻"},{"x":-5.85,"y":0,"s":"π₄⁻"},{"x":-5.6,"y":0,"s":"π₄⁻"},{"x":-5.55,"y":0.2,"s":"π₄⁻"},{"x":-5.52,"y":1.1,"s":"π₄⁻"},{"x":-5.48,"y":0.2,"s":"π₄⁻"},{"x":-5.44,"y":0.45,"s":"π₄⁻"},{"x":-5.41,"y":0.1,"s":"π₄⁻"},{"x":-5.39,"y":0,"s":"π₄⁻"},{"x":-4.64,"y":0,"s":"π₄⁻"},{"x":-4.62,"y":-0.1,"s":"π₄⁻"},{"x":-4.58,"y":-1.25,"s":"π₄⁻"},{"x":-4.54,"y":-0.5,"s":"π₄⁻"},{"x":-4.47,"y":-0.1,"s":"π₄⁻"},{"x":-4.43,"y":0.3,"s":"π₄⁻"},{"x":-4.36,"y":0.2,"s":"π₄⁻"},{"x":-4.3,"y":-1.2,"s":"π₄⁻"},{"x":-4.23,"y":0.8,"s":"π₄⁻"},{"x":-4.17,"y":0.1,"s":"π₄⁻"},{"x":-4.0,"y":0.2,"s":"π₄⁻"},{"x":-3.88,"y":0.15,"s":"π₄⁻"},{"x":-3.84,"y":0.3,"s":"π₄⁻"},{"x":-3.8,"y":-0.6,"s":"π₄⁻"},{"x":-3.75,"y":-0.65,"s":"π₄⁻"},{"x":-3.72,"y":0,"s":"π₄⁻"},{"x":-3.6,"y":0.1,"s":"π₄⁻"},{"x":-3.2,"y":0.1,"s":"π₄⁻"},{"x":-3.0,"y":0.05,"s":"π₄⁻"},{"x":-2.96,"y":0.2,"s":"π₄⁻"},{"x":-2.8,"y":0.2,"s":"π₄⁻"},{"x":-2.75,"y":0.4,"s":"π₄⁻"},{"x":-2.7,"y":0,"s":"π₄⁻"},{"x":-2.4,"y":-0.05,"s":"π₄⁻"},{"x":-2.0,"y":-0.05,"s":"π₄⁻"},{"x":-1.6,"y":0.05,"s":"π₄⁻"},{"x":-1.25,"y":0,"s":"π₄⁻"},{"x":-1.16,"y":-0.5,"s":"π₄⁻"},{"x":-1.1,"y":-0.1,"s":"π₄⁻"},{"x":-0.85,"y":-0.1,"s":"π₄⁻"},{"x":-0.67,"y":-0.3,"s":"π₄⁻"},{"x":-0.6,"y":-0.1,"s":"π₄⁻"},{"x":-0.4,"y":-0.05,"s":"π₄⁻"},{"x":-0.35,"y":-0.35,"s":"π₄⁻"},{"x":-0.22,"y":-0.05,"s":"π₄⁻"},{"x":-0.1,"y":0.1,"s":"π₄⁻"},{"x":-0.05,"y":1.2,"s":"π₄⁻"},{"x":0.0,"y":0.1,"s":"π₄⁻"},{"x":0.15,"y":0.2,"s":"π₄⁻"},{"x":0.3,"y":0.4,"s":"π₄⁻"},{"x":0.37,"y":0.3,"s":"π₄⁻"},{"x":0.42,"y":0.8,"s":"π₄⁻"},{"x":0.45,"y":-0.3,"s":"π₄⁻"},{"x":0.5,"y":-0.6,"s":"π₄⁻"},{"x":0.6,"y":-0.3,"s":"π₄⁻"},{"x":0.67,"y":0,"s":"π₄⁻"},{"x":1.93,"y":0,"s":"π₄⁻"},{"x":1.97,"y":-0.25,"s":"π₄⁻"},{"x":2.0,"y":0,"s":"π₄⁻"},{"x":4.1,"y":0,"s":"π₄⁻"},{"x":4.12,"y":-2.5,"s":"π₄⁻"},{"x":4.16,"y":-0.7,"s":"π₄⁻"},{"x":4.2,"y":-1.3,"s":"π₄⁻"},{"x":4.25,"y":-0.7,"s":"π₄⁻"},{"x":4.28,"y":2.5,"s":"π₄⁻"},{"x":4.31,"y":2.5,"s":"π₄⁻"},{"x":4.35,"y":0,"s":"π₄⁻"},{"x":6,"y":0,"s":"π₄⁻"},
{"x":-7,"y":0,"s":"π₄⁺"},{"x":-6.3,"y":0,"s":"π₄⁺"},{"x":-6.27,"y":0.1,"s":"π₄⁺"},{"x":-6.0,"y":0.1,"s":"π₄⁺"},{"x":-5.96,"y":0.2,"s":"π₄⁺"},{"x":-5.88,"y":0,"s":"π₄⁺"},{"x":-5.57,"y":0,"s":"π₄⁺"},{"x":-5.52,"y":0.5,"s":"π₄⁺"},{"x":-5.44,"y":0.2,"s":"π₄⁺"},{"x":-5.4,"y":0,"s":"π₄⁺"},{"x":-4.63,"y":0,"s":"π₄⁺"},{"x":-4.58,"y":-0.6,"s":"π₄⁺"},{"x":-4.5,"y":-0.3,"s":"π₄⁺"},{"x":-4.42,"y":-0.3,"s":"π₄⁺"},{"x":-4.35,"y":0.3,"s":"π₄⁺"},{"x":-4.28,"y":-0.5,"s":"π₄⁺"},{"x":-4.22,"y":0.3,"s":"π₄⁺"},{"x":-4.1,"y":-0.2,"s":"π₄⁺"},{"x":-3.98,"y":-0.45,"s":"π₄⁺"},{"x":-3.88,"y":-0.3,"s":"π₄⁺"},{"x":-3.8,"y":0.1,"s":"π₄⁺"},{"x":-3.5,"y":0.05,"s":"π₄⁺"},{"x":-3.0,"y":0.15,"s":"π₄⁺"},{"x":-2.8,"y":0.3,"s":"π₄⁺"},{"x":-2.7,"y":0,"s":"π₄⁺"},{"x":-1.25,"y":0,"s":"π₄⁺"},{"x":-1.16,"y":-0.85,"s":"π₄⁺"},{"x":-1.1,"y":-0.1,"s":"π₄⁺"},{"x":-0.7,"y":-0.05,"s":"π₄⁺"},{"x":-0.35,"y":-0.2,"s":"π₄⁺"},{"x":-0.1,"y":0.05,"s":"π₄⁺"},{"x":-0.05,"y":0.6,"s":"π₄⁺"},{"x":0.0,"y":0.05,"s":"π₄⁺"},{"x":0.3,"y":0.2,"s":"π₄⁺"},{"x":0.41,"y":2.5,"s":"π₄⁺"},{"x":0.45,"y":0.3,"s":"π₄⁺"},{"x":0.52,"y":-1.5,"s":"π₄⁺"},{"x":0.56,"y":-0.8,"s":"π₄⁺"},{"x":0.6,"y":-0.2,"s":"π₄⁺"},{"x":0.67,"y":0,"s":"π₄⁺"},{"x":4.1,"y":0,"s":"π₄⁺"},{"x":4.14,"y":-0.8,"s":"π₄⁺"},{"x":4.22,"y":-1.0,"s":"π₄⁺"},{"x":4.3,"y":-1.9,"s":"π₄⁺"},{"x":4.33,"y":-2.5,"s":"π₄⁺"},{"x":4.35,"y":2.5,"s":"π₄⁺"},{"x":4.37,"y":0,"s":"π₄⁺"},{"x":6,"y":0,"s":"π₄⁺"}
   ]},
    "mark": {"type": "line", "clip": true, "strokeWidth": 1.5, "color": "#2ca02c"},
    "encoding": {
     "x": {"field": "x", "type": "quantitative", "scale": {"domain": [-7, 6], "nice": false, "zero": false}, "axis": {"orient": "bottom", "values": [-7,-6.5,-6,-5.5,-5,-4.5,-4,-3.5,-3,-2.5,-2,-1.5,-1,-0.5,0,0.5,1,1.5,2,2.5,3,3.5,4,4.5,5,5.5,6], "labels": false, "title": null, "tickSize": 4, "grid": true}},
     "y": {"field": "y", "type": "quantitative", "scale": {"domain": [-1.9, 1.9], "nice": false}, "axis": {"values": [-1, 0, 1], "title": null, "labelFontSize": 22, "tickSize": 5, "labelPadding": 4, "grid": true, "labelExpr": "replace(format(datum.value, 'd'), '-', '−')"}},
     "strokeDash": {"field": "s", "type": "nominal", "scale": {"domain": ["π₄⁻", "π₄⁺"], "range": [[1, 0], [5, 3]]}, "legend": {"orient": "top-right", "offset": 7, "title": null, "fillColor": "white", "strokeColor": "#d0d0d0", "padding": 5, "cornerRadius": 3, "symbolType": "stroke", "symbolSize": 500, "symbolStrokeWidth": 1.5, "symbolStrokeColor": "#2ca02c", "labelFontSize": 14, "rowPadding": 1, "labelOffset": 6}}
    }
   },
   {"data": {"values": [{"x": 0}]}, "mark": {"type": "rule", "color": "#111111", "strokeDash": [5, 3], "strokeWidth": 1.5},
    "encoding": {"x": {"field": "x", "type": "quantitative", "axis": {"orient": "bottom", "values": [-7,-6,-5,-4,-3,-2,-1,0,1,2,3,4,5,6], "title": "Energy (eV)", "titleFontSize": 24, "titleFontWeight": "normal", "titlePadding": 4, "labelFontSize": 22, "labelPadding": 2, "tickSize": 7, "grid": false, "labelExpr": "replace(format(datum.value, 'd'), '-', '−')"}}}}
  ]
 }
]
}
